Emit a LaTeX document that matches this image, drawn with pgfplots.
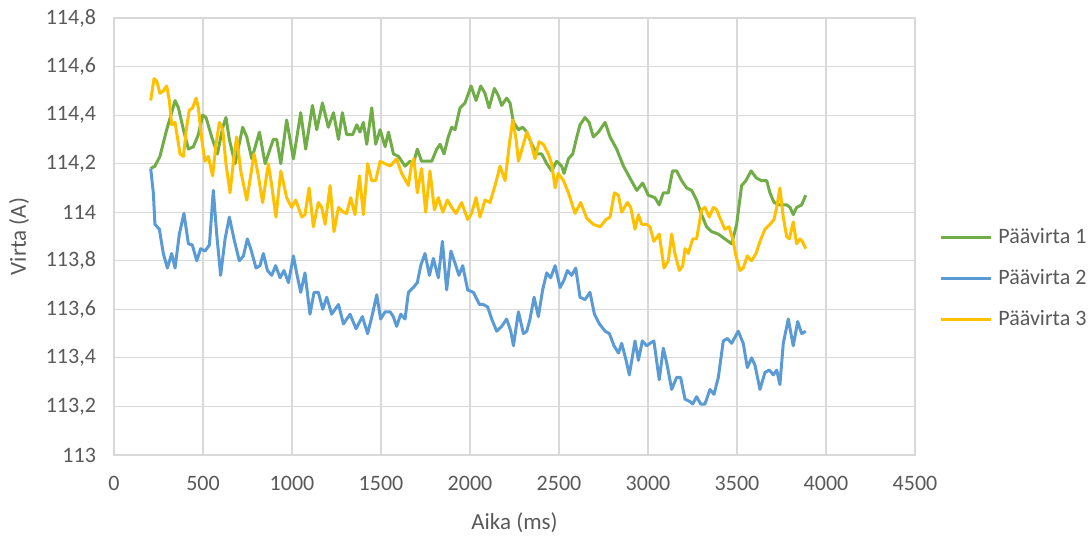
\documentclass[border=0pt]{standalone}
\usepackage{pgfplots}
\pgfplotsset{compat=1.18}
\usepackage{pgfplotstable}
\usepackage{fontspec}
\setmainfont{Carlito}
\definecolor{cgreen}{HTML}{70AD47}
\definecolor{cblue}{HTML}{5B9BD5}
\definecolor{cyellow}{HTML}{FFC000}
\definecolor{cgrid}{HTML}{D9D9D9}
\definecolor{ctext}{HTML}{595959}

\pgfplotstableread{
t v
206 114.18
230 114.19
258 114.23
296 114.34
324 114.41
343 114.46
362 114.43
390 114.34
418 114.26
446 114.27
474 114.32
498 114.40
517 114.39
549 114.31
581 114.24
611 114.35
629 114.39
648 114.30
680 114.20
723 114.35
746 114.31
774 114.22
817 114.33
849 114.20
895 114.30
914 114.30
937 114.20
970 114.38
1008 114.22
1049 114.41
1077 114.26
1115 114.44
1139 114.34
1171 114.45
1204 114.35
1233 114.41
1261 114.30
1283 114.41
1307 114.32
1341 114.32
1364 114.36
1382 114.33
1401 114.37
1420 114.28
1448 114.43
1470 114.28
1495 114.34
1523 114.27
1542 114.33
1570 114.24
1598 114.23
1635 114.19
1663 114.21
1682 114.20
1704 114.26
1728 114.21
1757 114.21
1785 114.21
1813 114.26
1832 114.28
1854 114.24
1878 114.31
1897 114.35
1916 114.34
1944 114.43
1972 114.45
2006 114.52
2034 114.46
2060 114.52
2084 114.49
2107 114.43
2137 114.51
2159 114.48
2178 114.44
2206 114.47
2225 114.45
2244 114.37
2272 114.34
2296 114.35
2319 114.33
2347 114.28
2375 114.24
2403 114.24
2431 114.20
2459 114.17
2487 114.21
2515 114.19
2528 114.16
2553 114.22
2577 114.24
2600 114.31
2618 114.36
2646 114.39
2669 114.37
2693 114.31
2721 114.33
2759 114.37
2787 114.31
2824 114.26
2862 114.19
2899 114.14
2937 114.09
2970 114.12
3002 114.07
3039 114.06
3063 114.03
3086 114.08
3114 114.08
3138 114.17
3161 114.17
3189 114.13
3217 114.10
3245 114.09
3273 114.05
3301 113.99
3329 113.94
3357 113.92
3395 113.91
3432 113.89
3470 113.87
3498 113.95
3526 114.11
3550 114.13
3579 114.17
3610 114.14
3638 114.13
3667 114.13
3685 114.08
3708 114.04
3741 114.03
3779 114.03
3798 114.02
3816 113.99
3835 114.02
3863 114.03
3886 114.07
}\green

\pgfplotstableread{
t v
206 114.18
221 114.08
230 113.95
255 113.93
277 113.83
300 113.77
324 113.83
343 113.77
367 113.91
393 113.995
418 113.87
440 113.865
465 113.80
487 113.85
511 113.84
536 113.865
558 114.09
577 113.91
599 113.74
624 113.89
648 113.98
674 113.89
704 113.80
727 113.82
749 113.89
768 113.85
798 113.77
820 113.78
839 113.83
862 113.76
886 113.74
908 113.78
933 113.73
955 113.76
980 113.71
1008 113.82
1026 113.75
1049 113.67
1073 113.75
1101 113.58
1124 113.67
1148 113.67
1173 113.60
1195 113.65
1223 113.58
1261 113.62
1289 113.54
1326 113.58
1360 113.52
1395 113.57
1425 113.50
1452 113.58
1476 113.66
1498 113.56
1523 113.59
1551 113.59
1569 113.57
1588 113.53
1611 113.58
1635 113.56
1654 113.67
1682 113.69
1704 113.71
1723 113.78
1747 113.83
1772 113.74
1794 113.81
1822 113.73
1845 113.88
1869 113.68
1893 113.84
1916 113.79
1938 113.74
1959 113.78
1987 113.68
2019 113.67
2053 113.62
2075 113.62
2099 113.61
2122 113.56
2150 113.51
2178 113.53
2206 113.56
2229 113.51
2244 113.45
2272 113.59
2300 113.50
2319 113.51
2337 113.56
2360 113.65
2384 113.57
2408 113.68
2431 113.75
2453 113.73
2478 113.78
2506 113.69
2528 113.72
2547 113.76
2571 113.74
2594 113.77
2618 113.65
2646 113.64
2674 113.67
2699 113.58
2727 113.54
2759 113.51
2783 113.50
2809 113.45
2834 113.42
2852 113.46
2877 113.39
2895 113.33
2927 113.47
2946 113.39
2968 113.47
2993 113.45
3011 113.46
3033 113.47
3063 113.31
3086 113.44
3105 113.38
3133 113.27
3161 113.32
3183 113.32
3208 113.23
3236 113.22
3251 113.21
3273 113.24
3296 113.21
3320 113.21
3348 113.27
3371 113.25
3395 113.32
3423 113.47
3446 113.48
3470 113.46
3507 113.51
3535 113.46
3558 113.36
3582 113.40
3601 113.37
3629 113.27
3657 113.34
3682 113.35
3704 113.33
3723 113.35
3741 113.29
3760 113.46
3788 113.56
3816 113.45
3841 113.55
3863 113.50
3886 113.51
}\blue

\pgfplotstableread{
t v
206 114.46
225 114.55
240 114.54
258 114.49
277 114.50
296 114.52
311 114.46
324 114.36
343 114.37
371 114.24
390 114.23
408 114.35
423 114.42
442 114.43
461 114.47
474 114.43
493 114.30
511 114.21
530 114.23
554 114.15
573 114.28
592 114.37
611 114.34
629 114.20
652 114.08
674 114.23
689 114.31
712 114.17
746 114.05
787 114.24
811 114.15
835 114.04
867 114.20
886 114.11
910 113.98
937 114.17
970 114.06
998 114.02
1021 114.05
1055 113.98
1073 113.99
1096 114.10
1120 113.94
1148 114.04
1167 114.02
1186 113.95
1214 114.11
1236 113.92
1261 114.02
1289 114.00
1307 113.995
1330 114.06
1354 113.99
1379 114.15
1401 113.99
1425 114.20
1448 114.13
1470 114.13
1495 114.21
1523 114.20
1551 114.19
1588 114.22
1616 114.16
1654 114.11
1672 114.20
1685 114.22
1704 114.08
1728 114.18
1751 114.00
1775 114.17
1800 114.01
1822 114.06
1847 114.00
1873 114.05
1897 114.02
1921 113.995
1953 114.04
1987 113.97
2009 113.995
2034 114.06
2056 113.98
2084 114.05
2112 114.04
2141 114.11
2169 114.19
2197 114.13
2221 114.28
2240 114.38
2259 114.30
2272 114.21
2296 114.27
2319 114.33
2337 114.30
2365 114.22
2388 114.29
2412 114.28
2440 114.24
2459 114.20
2478 114.10
2496 114.16
2525 114.13
2553 114.08
2590 113.995
2622 114.04
2656 113.975
2693 113.95
2731 113.94
2764 113.97
2787 113.98
2811 114.08
2834 114.07
2852 114.00
2884 114.04
2903 114.02
2927 113.93
2946 113.99
2965 113.95
2993 113.95
3011 113.94
3033 113.88
3063 113.91
3090 113.77
3114 113.80
3133 113.91
3151 113.83
3176 113.76
3195 113.78
3208 113.85
3226 113.83
3251 113.89
3273 113.89
3301 114.01
3320 114.02
3344 113.98
3367 114.02
3386 114.01
3408 113.97
3432 113.93
3455 113.94
3476 113.89
3494 113.82
3517 113.76
3535 113.77
3558 113.82
3582 113.80
3607 113.83
3629 113.88
3657 113.93
3685 113.95
3708 113.97
3723 114.02
3741 114.10
3760 113.98
3779 113.90
3794 113.89
3816 113.96
3835 113.87
3854 113.89
3867 113.88
3886 113.85
}\yellow

\begin{document}
\begin{tikzpicture}
\begin{axis}[
  at={(0,0)}, anchor=south west,
  scale only axis,
  width=400.5pt, height=218.5pt,
  xmin=0, xmax=4500, ymin=113, ymax=114.8,
  xtick={0,500,...,4500},
  ytick={113,113.2,113.4,113.6,113.8,114,114.2,114.4,114.6,114.8},
  /pgf/number format/use comma,
  /pgf/number format/1000 sep={},
  /pgf/number format/assume math mode=true,
  yticklabel style={/pgf/number format/fixed, /pgf/number format/precision=1},
  tick style={draw=none},
  grid=major,
  major grid style={cgrid, line width=0.6pt},
  axis line style={cgrid, line width=0.6pt},
  ticklabel style={font=\fontsize{11}{13}\selectfont, text=ctext},
  yticklabel style={xshift=-5.5pt},
  xticklabel style={yshift=-7pt},
  xlabel={Aika (ms)}, ylabel={Virta (A)},
  label style={font=\fontsize{11.5}{13}\selectfont, text=ctext},
  xlabel style={yshift=-4pt},
  ylabel style={yshift=1.5pt},
  legend style={at={(1.0,0.403)}, anchor=west, xshift=12pt, draw=none, fill=none,
    inner sep=0pt, font=\fontsize{11}{13}\selectfont, text=ctext, row sep=10.5pt,
    nodes={inner sep=0pt, text height=8pt, text depth=2pt},
    /tikz/every odd column/.append style={column sep=3pt}},
  legend cell align=left,
  legend image code/.code={\draw[#1, line width=1.5pt] (0pt,0pt) -- (25pt,0pt);},
  every axis plot/.append style={line join=round},
]
\addplot[cgreen, line width=1.5pt] table[x=t,y=v] {\green};
\addlegendentry{Päävirta 1}
\addplot[cblue, line width=1.5pt] table[x=t,y=v] {\blue};
\addlegendentry{Päävirta 2}
\addplot[cyellow, line width=1.5pt] table[x=t,y=v] {\yellow};
\addlegendentry{Päävirta 3}
\end{axis}
\pgfresetboundingbox
\path (-57pt,-41pt) rectangle (488pt,227.5pt);
\end{tikzpicture}
\end{document}
